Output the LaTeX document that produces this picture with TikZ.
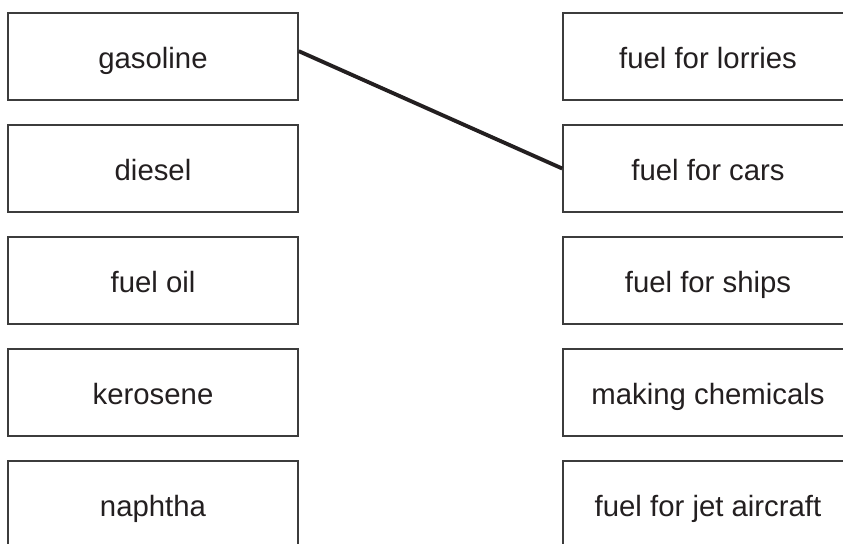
\documentclass[tikz,border=0pt]{standalone}
\usepackage{fontspec}
\setmainfont{Liberation Sans}
\definecolor{txt}{HTML}{231F20}
\definecolor{edge}{HTML}{3C3C3C}
\tikzset{
  optbox/.style={draw=edge, line width=1.2pt, minimum width=217.5pt, minimum height=65.25pt,
    inner sep=0pt, text=txt, text height=17.6pt, text depth=0pt,
    font=\fontsize{22}{26}\selectfont},
  link/.style={draw=txt, line width=2.9pt}
}
\begin{document}
\begin{tikzpicture}[x=0.75pt,y=-0.75pt]
\useasboundingbox (0,0) rectangle (843,543);
\clip (0,0) rectangle (843,543);
\fill[white] (0,0) rectangle (843,543);
\node[optbox] (l1) at (153,56.5) {gasoline};
\node[optbox] (l2) at (153,168.5) {diesel};
\node[optbox] (l3) at (153,280.5) {fuel oil};
\node[optbox] (l4) at (153,392.5) {kerosene};
\node[optbox] (l5) at (153,504.5) {naphtha};
\node[optbox] (r1) at (708,56.5) {fuel for lorries};
\node[optbox] (r2) at (708,168.5) {fuel for cars};
\node[optbox] (r3) at (708,280.5) {fuel for ships};
\node[optbox] (r4) at (708,392.5) {making chemicals};
\node[optbox] (r5) at (708,504.5) {fuel for jet aircraft};
\coordinate (s) at ([yshift=4pt]l1.east);
\draw[link] (s) -- (r2.west);
\end{tikzpicture}
\end{document}
